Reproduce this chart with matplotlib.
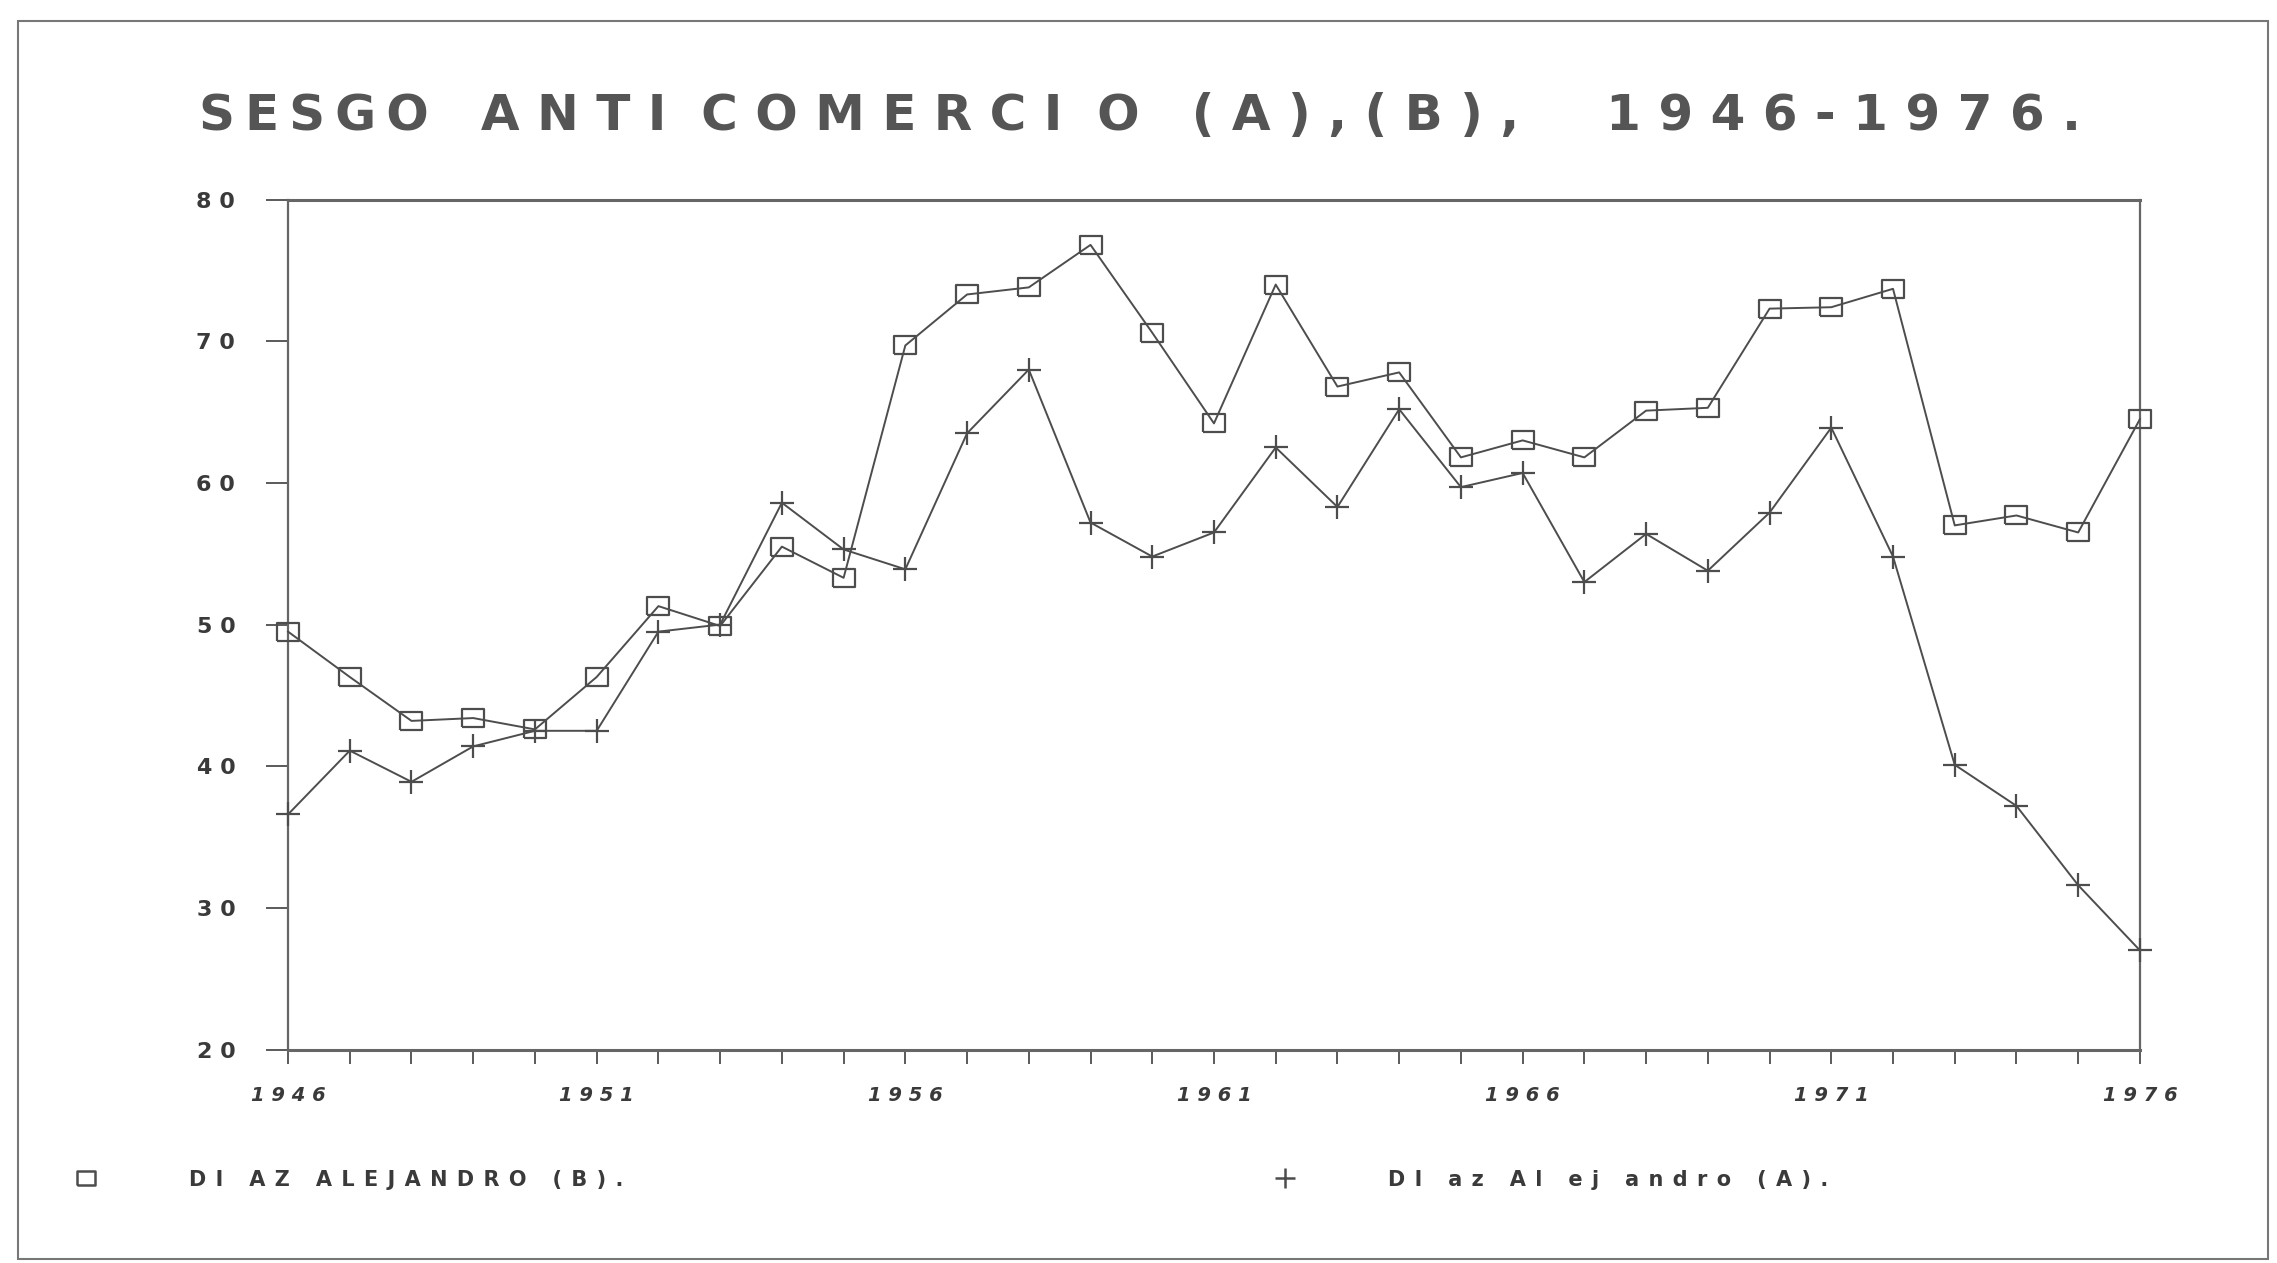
import matplotlib
matplotlib.use("Agg")
import matplotlib.pyplot as plt
from matplotlib.lines import Line2D
from matplotlib.patches import Rectangle


years = list(range(1946, 1977))

# Diaz Alejandro (B), squares
serie_b = [49.5, 46.3, 43.2, 43.4, 42.6, 46.3, 51.3, 49.9, 55.5, 53.3,
           69.7, 73.3, 73.8, 76.8, 70.6, 64.2, 74.0, 66.8, 67.8, 61.8,
           63.0, 61.8, 65.1, 65.3, 72.3, 72.4, 73.7, 57.0, 57.7, 56.5,
           64.5]

# Diaz Alejandro (A), crosses
serie_a = [36.6, 41.1, 38.9, 41.4, 42.5, 42.5, 49.5, 50.0, 58.6, 55.3,
           53.9, 63.5, 68.0, 57.2, 54.8, 56.5, 62.5, 58.3, 65.2, 59.7,
           60.7, 53.0, 56.4, 53.8, 57.9, 63.9, 54.8, 40.1, 37.2, 31.6,
           27.0]

y_ticks = [20, 30, 40, 50, 60, 70, 80]
x_ticks = [1946, 1951, 1956, 1961, 1966, 1971, 1976]

label_b = "DI AZ ALEJANDRO (B)."
label_a = "DI az Al ej andro (A)."


def spaced(text, gap=" "):
    # typewriter look: a blank after every character
    return gap.join(text)


def main():

    ink = "#4d4d4d"
    text_ink = "#3a3a3a"

    # slightly wide box, like the plotter's squares
    box = [(-1.0, -0.8), (1.0, -0.8), (1.0, 0.8), (-1.0, 0.8), (-1.0, -0.8)]

    fig = plt.figure(figsize=(22.77, 12.63), dpi=100)
    fig.patch.set_facecolor("white")

    # outer frame of the scanned page
    fig.patches.append(Rectangle((0.008, 0.003), 0.988, 0.98, transform=fig.transFigure,
                                 fill=False, edgecolor="#777777", linewidth=1.5))

    ax = fig.add_axes([0.1265, 0.169, 0.8133, 0.673])

    ax.plot(years, serie_b, color=ink, linewidth=1.4, marker=box, markersize=16,
            markerfacecolor="none", markeredgecolor=ink, markeredgewidth=1.6,
            clip_on=False, zorder=3)
    ax.plot(years, serie_a, color=ink, linewidth=1.4, marker="+", markersize=17,
            markeredgewidth=1.6, clip_on=False, zorder=3)

    ax.set_xlim(1946, 1976)
    ax.set_ylim(20, 80)

    ax.set_yticks(y_ticks)
    ax.set_yticklabels([spaced(str(v)) for v in y_ticks], fontsize=16,
                       fontweight="bold")
    ax.set_xticks(years, minor=True)
    ax.set_xticks(x_ticks)
    ax.set_xticklabels([spaced(str(v)) for v in x_ticks], fontsize=14,
                       fontweight="bold", fontstyle="italic")

    ax.tick_params(axis="y", direction="out", length=16, width=1.3, pad=22, colors=ink,
                   labelcolor=text_ink)
    ax.tick_params(axis="x", which="both", direction="out", length=10, width=1.3,
                   pad=16, colors=ink, labelcolor=text_ink)

    for side in ["left", "right", "top", "bottom"]:
        ax.spines[side].set_color("#666666")
        ax.spines[side].set_linewidth(1.6)
    ax.spines["top"].set_linewidth(2.2)
    ax.spines["bottom"].set_linewidth(2.2)

    thin = "\u2009"
    title = (spaced("SESGO", thin) + "   " + spaced("ANTI") + "  "
             + spaced("COMERCI") + "  O   " + spaced("(A),(B),")
             + "     " + spaced("1946-1976."))
    fig.text(0.0875, 0.908, title, fontsize=36, fontweight="bold",
             color="#555555", ha="left", va="center")

    square = Line2D([], [], linestyle="none", marker=box, markersize=13,
                    markerfacecolor="none", markeredgecolor=ink, markeredgewidth=1.8)
    cross = Line2D([], [], linestyle="none", marker="+", markersize=15,
                   markeredgewidth=1.8, color=ink)

    leg_b = fig.legend([square], [spaced(label_b, " \u200a")], loc="center left",
                       bbox_to_anchor=(0.031, 0.066), frameon=False,
                       handlelength=1.5, handletextpad=4.2, borderpad=0, borderaxespad=0,
                       prop={"weight": "bold", "size": 15})
    for t in leg_b.get_texts():
        t.set_color(text_ink)
    leg_a = fig.legend([cross], [spaced(label_a, " \u200a")], loc="center left",
                       bbox_to_anchor=(0.5576, 0.066), frameon=False,
                       handlelength=1.5, handletextpad=4.2, borderpad=0, borderaxespad=0,
                       prop={"weight": "bold", "size": 15})
    for t in leg_a.get_texts():
        t.set_color(text_ink)

    fig.savefig("out.png", dpi=100, facecolor="white")


if __name__ == "__main__":
    main()
